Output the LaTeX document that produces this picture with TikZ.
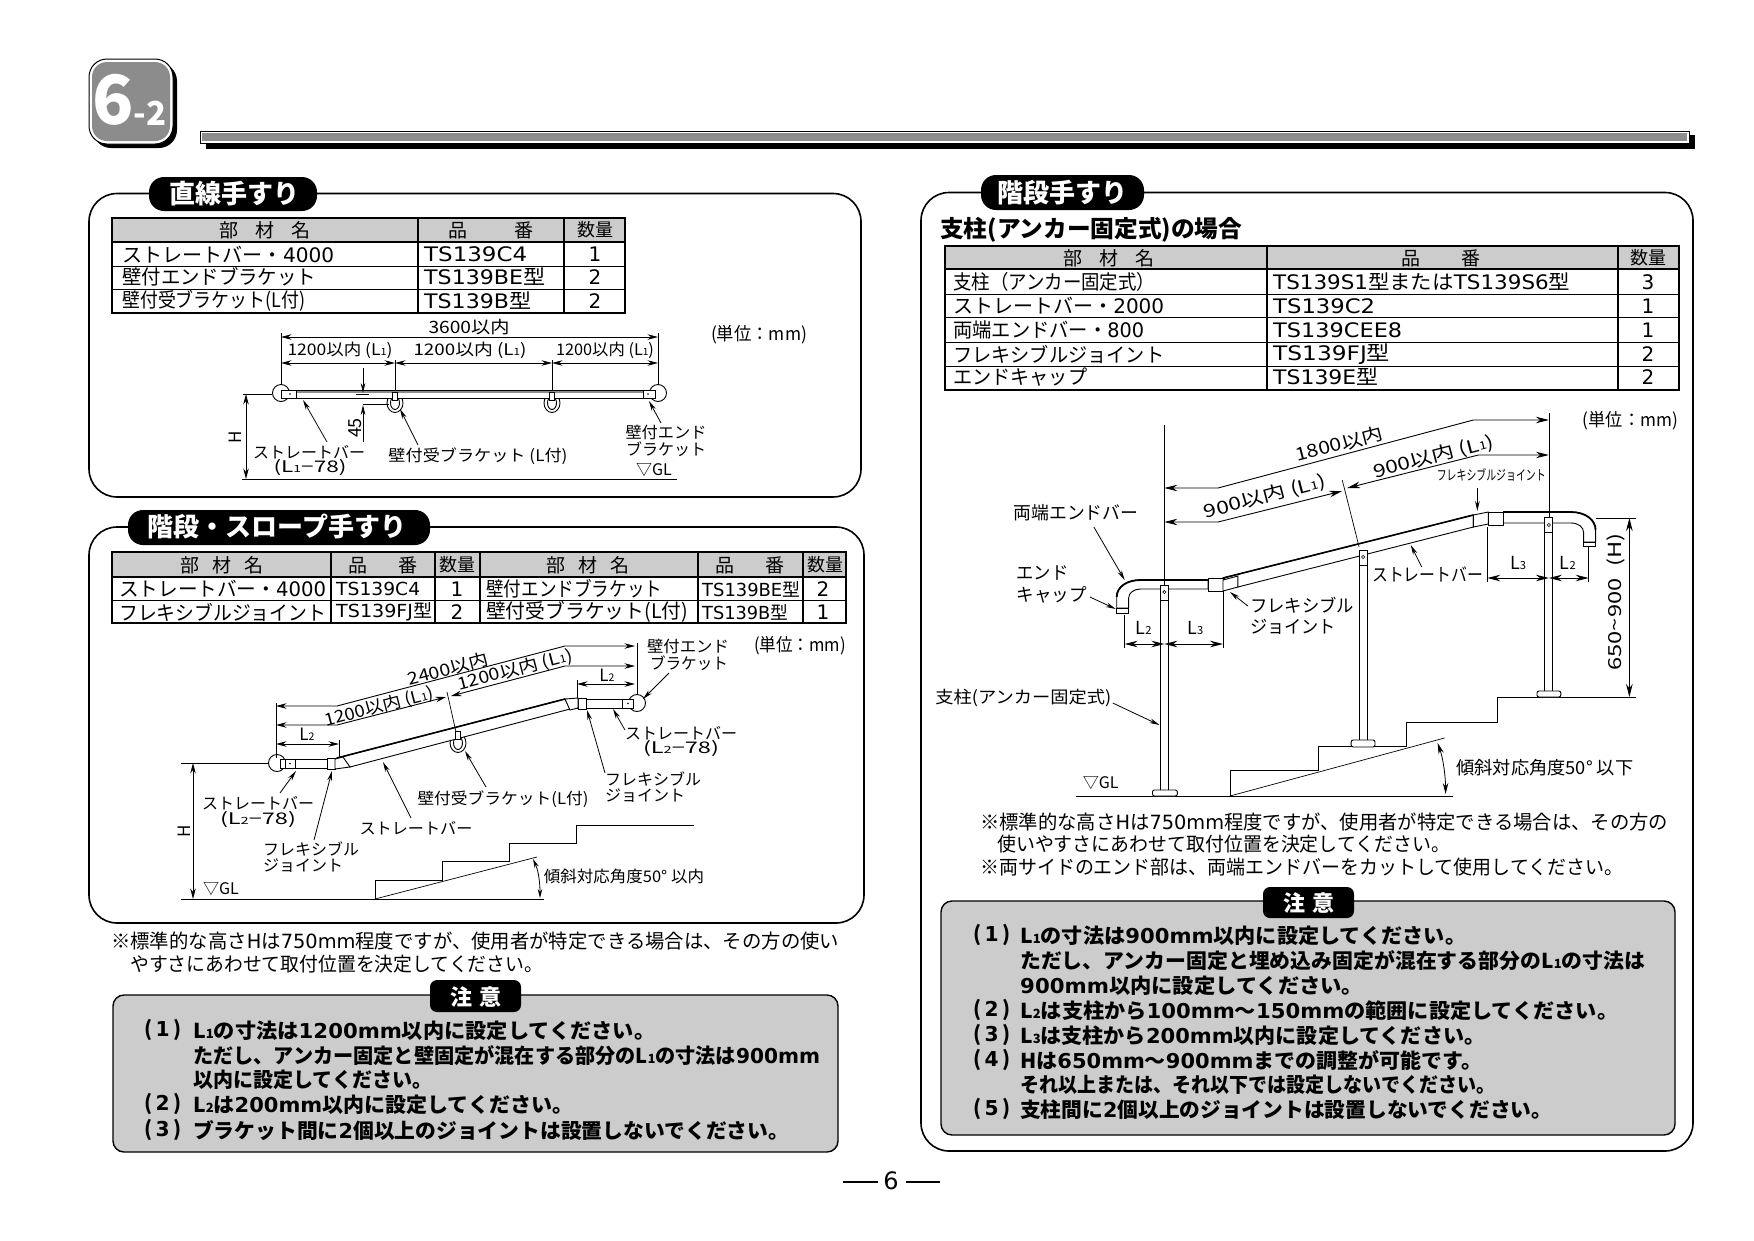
\documentclass[tikz,border=0pt]{standalone}
\usepackage{fontspec}
\usepackage{graphicx}
\setmainfont{Noto Sans CJK JP}
\newfontfamily\latf{DejaVu Sans}
\usetikzlibrary{arrows.meta}
\newcommand\fs[1]{\fontsize{#1}{#1}\selectfont}
\newcommand\Ls[1]{L\scalebox{.62}{#1}}
\newcommand\D[1]{{\latf #1}}
\newcommand\fw[2]{\resizebox{#1pt}{\height}{#2}}
\definecolor{pgray}{HTML}{CCCCCC}
\definecolor{bgray}{HTML}{8C8C8C}
\tikzset{
 x=1pt,y=-1pt,
 tx/.style={inner sep=0pt,font=\fs{#1}},
 tx/.default=16,
 lt/.style={inner sep=0pt,anchor=west,font=\fs{#1}},
 lt/.default=20,
 bt/.style={inner sep=0pt,anchor=west,yshift=-1.3pt,font=\bfseries\fs{20.5}},
 head/.style={inner sep=0pt,font=\fs{19}},
 title/.style={inner sep=0pt,text=white,font=\bfseries\fs{26}},
 frame/.style={draw=black,line width=1.6pt,rounded corners=28pt,fill=white},
 pill/.style={fill=black,rounded corners=15pt},
 attn/.style={draw=black,line width=1.4pt,fill=pgray,rounded corners=11pt},
 tab/.style={draw=black,line width=1.5pt},
 thin line/.style={line width=.8pt},
 dim/.style={line width=.9pt,{Stealth[length=10.5pt,width=5.5pt]}-{Stealth[length=10.5pt,width=5.5pt]}},
 bigdim/.style={line width=.9pt,{Stealth[length=13pt,width=6.5pt]}-{Stealth[length=13pt,width=6.5pt]}},
 arr/.style={line width=.8pt,-{Stealth[length=10pt,width=4.6pt]}},
 ext/.style={line width=.7pt},
 rail/.style={draw=black,line width=.9pt,fill=white},
}
\begin{document}
\begin{tikzpicture}
\useasboundingbox (0,0) rectangle (1754,1240);
\fill[white] (0,0) rectangle (1754,1240);
% badge
\fill[black,rounded corners=18pt] (93,63) rectangle (177,148);
\draw[black,line width=1pt,fill=white,rounded corners=18pt] (89,59) rectangle (173,144);
\fill[bgray,rounded corners=15pt] (92,62) rectangle (170,141);
\node[inner sep=0pt,text=white,font=\bfseries\fs{68}] (bsix) at (113,100) {6};
\node[inner sep=0pt,text=white,font=\bfseries\fs{33}] (btwo) at (150,113) {-2};
% header rule
\fill[black] (206,135) rectangle (1695,149);
\draw[black,line width=.8pt,fill=white] (200,131) rectangle (1689,143);
\fill[bgray] (202,133) rectangle (1687,141);

%% BOX 1
\draw[frame] (89,193.5) rectangle (861,497);
\fill[pill] (149,177) rectangle (317,211);
\node[title] (t1) at (234,194) {直線手すり};
\fill[pgray] (112,218) rectangle (625,242);
\draw[tab] (112,218) rectangle (625,313);
\draw[tab] (112,242) -- (625,242);
\draw[thin line] (112,266) -- (625,266) (112,289) -- (625,289);
\draw[tab] (418,218) -- (418,313) (564,218) -- (564,313);
\node[head] (a1) at (265,230) {部\hspace{.9em}材\hspace{.9em}名};
\node[head] (a2) at (491,230) {品\hspace{2.5em}番};
\node[head,font=\fs{18}] (a3) at (595,230) {数量};
\node[lt] (a4) at (122,255) {\fw{212}{ストレートバー・\D{4000}}};
\node[lt] (a5) at (122,277) {\fw{194}{壁付エンドブラケット}};
\node[lt] (a6) at (122,301) {\fw{183}{壁付受ブラケット(L付)}};
\node[lt] (a7) at (424,254) {\fw{103}{\D{TS139C4}}};
\node[lt] (a8) at (424,277) {\fw{121}{\D{TS139BE}型}};
\node[lt] (a9) at (424,301) {\fw{107}{\D{TS139B}型}};
\node[tx=20] (a10) at (595,254) {\D{1}};
\node[tx=20] (a11) at (595,277) {\D{2}};
\node[tx=20] (a12) at (595,301) {\D{2}};
% diagram 1
\draw[ext] (281,333) -- (281,387) (658,333) -- (658,387) (395,360) -- (395,392) (552,360) -- (552,392);
\draw[dim] (281,337) -- (658,337);
\draw[dim] (281,363) -- (395,363);
\draw[dim] (395,363) -- (552,363);
\draw[dim] (552,363) -- (658,363);
\node[tx=17] (d1a) at (469,327) {\fw{81}{3600以内}};
\node[tx=16] (d1b) at (340,350) {\fw{105}{1200以内 (\Ls{1})}};
\node[tx=16] (d1c) at (470,350) {\fw{113}{1200以内 (\Ls{1})}};
\node[tx=16] (d1d) at (605,350) {\fw{98}{1200以内 (\Ls{1})}};
\node[tx=18] (d1e) at (759,335) {\fw{96}{(単位：mm)}};
\draw[rail] (281,393) circle (8.5);
\draw[rail] (658,393) circle (8.5);
\draw[rail] (395,403) ellipse (8 and 9.5);
\draw[rail] (395,403) ellipse (4.5 and 6.5);
\draw[rail] (552,403) ellipse (8 and 9.5);
\draw[rail] (552,403) ellipse (4.5 and 6.5);
\draw[rail] (285,390) rectangle (654,398);
\draw[bgray,line width=2pt] (296,391.5) -- (643,391.5);
\draw[rail] (281,390) rectangle (296,398);
\draw[rail] (643,390) rectangle (655,398);
\fill (290,394) circle (.8) (648,394) circle (.8);
\draw[rail] (392.5,392) rectangle (397.5,400);
\draw[rail] (549.5,392) rectangle (554.5,400);
\draw[ext] (243,394) -- (272,394);
\draw[ext] (242,479) -- (677,479);
\draw[dim] (246,394) -- (246,479);
\node[tx=17,rotate=90] (d1h) at (235,437) {H};
\draw[arr] (363,368) -- (363,393);
\draw[ext] (356,394) -- (369,394);
\draw[arr] (363,442) -- (363,405);
\draw[ext] (363,404) -- (389,404);
\node[tx=18,rotate=90] (d1f) at (355,428) {45};
\node[tx=16] (l1a) at (309,452) {\fw{112}{ストレートバー}};
\node[tx=16] (l1b) at (310,468) {\fw{73}{(\Ls{1}−78)}};
\draw[arr] (327,442) -- (303,400);
\node[tx=16] (l1c) at (478,456) {\fw{179}{壁付受ブラケット (L付)}};
\draw[arr] (418,445) -- (400,409);
\node[tx=16] (l1d) at (666,432) {\fw{81}{壁付エンド}};
\node[tx=16] (l1e) at (666,449) {\fw{80}{ブラケット}};
\draw[arr] (661,423) -- (649,401);
\node[tx=16] (l1f) at (654,470) {▽GL};

%% BOX 2
\draw[frame] (89,527) rectangle (864,923);
\fill[pill] (128,510) rectangle (430,545);
\node[title] (t2) at (277,527) {階段・スロープ手すり};
\fill[pgray] (112,552) rectangle (846,577);
\draw[tab] (112,552) rectangle (846,623);
\draw[tab] (112,577) -- (846,577);
\draw[thin line] (112,600) -- (846,600);
\draw[tab] (331,552) -- (331,623) (435,552) -- (435,623) (480,552) -- (480,623) (698,552) -- (698,623) (803,552) -- (803,623);
\node[head] (b1) at (222,565) {部\hspace{.7em}材\hspace{.7em}名};
\node[head] (b2) at (383,565) {品\hspace{1.6em}番};
\node[head,font=\fs{18}] (b3) at (457,565) {数量};
\node[head] (b4) at (588,565) {部\hspace{.7em}材\hspace{.7em}名};
\node[head] (b5) at (750,565) {品\hspace{1.6em}番};
\node[head,font=\fs{18}] (b6) at (825,565) {数量};
\node[lt=20] (b7) at (119,589) {\fw{207}{ストレートバー・\D{4000}}};
\node[lt=20] (b8) at (119,612) {\fw{207}{フレキシブルジョイント}};
\node[lt=18] (b9) at (336,589) {\fw{84}{\D{TS139C4}}};
\node[lt=18] (b10) at (336,612) {\fw{96}{\D{TS139FJ}型}};
\node[tx=20] (b11) at (457,589) {\D{1}};
\node[tx=20] (b12) at (457,612) {\D{2}};
\node[lt=20] (b13) at (486,589) {\fw{176}{壁付エンドブラケット}};
\node[lt=20] (b14) at (486,612) {\fw{202}{壁付受ブラケット(L付)}};
\node[lt=18] (b15) at (702,589) {\fw{98}{\D{TS139BE}型}};
\node[lt=18] (b16) at (702,612) {\fw{86}{\D{TS139B}型}};
\node[tx=20] (b17) at (823,589) {\D{2}};
\node[tx=20] (b18) at (823,612) {\D{1}};
% diagram 2
\draw[ext] (181,763) -- (272,763);
\draw[ext] (181,899) -- (544,899);
\draw[dim] (193,763) -- (193,899);
\node[tx=17,rotate=90] (d2h) at (184,831) {H};
\node[tx=16] (d2g) at (221,889) {▽GL};
\draw[ext] (375,899) -- (375,880) -- (442,880) -- (442,861) -- (509,861) -- (509,843) -- (576,843) -- (576,825) -- (694,825);
\draw[ext] (375,899) -- (537,857);
\draw[line width=.8pt,{Stealth[length=9pt,width=4.5pt]}-{Stealth[length=9pt,width=4.5pt]}] (533,859) .. controls (539,872) and (540,885) .. (540,898);
\node[tx=16] (d2a) at (624,876) {\fw{160}{傾斜対応角度50° 以内}};
\draw[rail] (277,763) circle (8.5);
\draw[rail] (637,703) circle (8.5);
\draw[rail] (458,743) ellipse (8 and 9.5);
\draw[rail] (458,743) ellipse (4.5 and 6.5);
\draw[rail] (280,759) rectangle (335,768);
\draw[rail] (565,699) rectangle (633,708);
\draw[rail] (337,758) -- (565,699) -- (570,709) -- (350,767) -- cycle;
\draw[black,line width=1.6pt] (337,758) -- (565,699);
\draw[rail] (327,758) rectangle (335,769);
\draw[rail] (335,759) -- (343,757) -- (350,767) -- (335,769) -- cycle;
\draw[rail] (578,698) rectangle (586,709);
\draw[rail] (565,699) -- (578,698) -- (578,708) -- (570,710) -- cycle;
\draw[rail] (622,699) rectangle (633,708);
\draw[rail] (285,759) rectangle (295,768);
\fill (290,763.5) circle (.8) (628,703.5) circle (.8);
\draw[rail] (455.5,731) rectangle (460.5,739);
\draw[ext] (276,703) -- (276,758) (339,740) -- (339,758);
\draw[ext] (577,680) -- (577,698) (637,643) -- (637,695);
\draw[ext] (447,692) -- (456,732);
\draw[dim] (276,744) -- (339,744);
\draw[dim] (577,684) -- (635,684);
\node[tx=17] (d2b) at (307,734) {\Ls{2}};
\node[tx=17] (d2c) at (607,675) {\Ls{2}};
\draw[dim] (276,706) -- (337,706) -- (565,646) -- (635,646);
\draw[dim] (276,725) -- (337,725) -- (446,697);
\draw[dim] (451,696) -- (565,666) -- (635,666);
\node[tx=17,rotate=14.5] (d2d) at (379,707) {\fw{112}{1200以内 (\Ls{1})}};
\node[tx=17,rotate=14.5] (d2e) at (515,670) {\fw{118}{1200以内 (\Ls{1})}};
\node[tx=17,rotate=14.5] (d2f) at (448,669) {\fw{83}{2400以内}};
\node[tx=16] (l2a) at (688,646) {\fw{82}{壁付エンド}};
\node[tx=16] (l2b) at (689,663) {\fw{78}{ブラケット}};
\draw[arr] (669,673) -- (643,699);
\node[tx=18] (l2c) at (800,646) {\fw{92}{(単位：mm)}};
\node[tx=16] (l2d) at (681,733) {\fw{112}{ストレートバー}};
\node[tx=16] (l2e) at (681,749) {\fw{76}{(\Ls{2}−78)}};
\draw[arr] (625,730) -- (613,709);
\node[lt=16] (l2f) at (605,779) {\fw{96}{フレキシブル}};
\node[lt=16] (l2g) at (605,796) {\fw{80}{ジョイント}};
\draw[arr] (605,773) -- (587,710);
\node[tx=16] (l2h) at (503,799) {\fw{171}{壁付受ブラケット(L付)}};
\draw[arr] (486,787) -- (465,751);
\node[tx=16] (l2i) at (416,828) {\fw{113}{ストレートバー}};
\draw[arr] (411,818) -- (383,762);
\node[tx=16] (l2j) at (258,803) {\fw{112}{ストレートバー}};
\node[tx=16] (l2k) at (258,820) {\fw{76}{(\Ls{2}−78)}};
\draw[arr] (280,793) -- (296,771);
\node[lt=16] (l2l) at (263,849) {\fw{96}{フレキシブル}};
\node[lt=16] (l2m) at (263,866) {\fw{80}{ジョイント}};
\draw[arr] (314,840) -- (332,771);
% note left
\node[lt=19.6,yshift=-1pt] (n1) at (111,940) {\fw{728}{※標準的な高さ\D{H}は\D{750mm}程度ですが、使用者が特定できる場合は、その方の使い}};
\node[lt=19.6,yshift=-1pt] (n2) at (130,963) {\fw{413}{やすさにあわせて取付位置を決定してください。}};
% caution left
\draw[attn] (113,995) rectangle (838,1152);
\fill[black,rounded corners=7pt] (430,980) rectangle (521,1012);
\node[title,font=\bfseries\fs{22}] (c0) at (476,997) {注\hspace{.35em}意};
\node[bt] (c1) at (144,1029) {\fw{37}{(\,\D{1}\,)}};
\node[bt] (c1a) at (193,1029) {\fw{462}{\Ls{1}の寸法は\D{1200mm}以内に設定してください。}};
\node[bt] (c1b) at (193,1054) {\fw{627}{ただし、アンカー固定と壁固定が混在する部分の\Ls{1}の寸法は\D{900mm}}};
\node[bt] (c1c) at (193,1078) {\fw{239}{以内に設定してください。}};
\node[bt] (c2) at (144,1103) {\fw{37}{(\,\D{2}\,)}};
\node[bt] (c2a) at (193,1103) {\fw{380}{\Ls{2}は\D{200mm}以内に設定してください。}};
\node[bt] (c3) at (144,1129) {\fw{37}{(\,\D{3}\,)}};
\node[bt] (c3a) at (193,1129) {\fw{596}{ブラケット間に\D{2}個以上のジョイントは設置しないでください。}};
% page number
\draw[line width=1.4pt] (843,1182) -- (878,1182) (906,1182) -- (940,1182);
\node[tx=24] (pg) at (891,1181) {\D{6}};

%% BOX 3
\draw[frame] (921,192.5) rectangle (1693,1151);
\fill[pill] (981,175) rectangle (1144,210);
\node[title] (t3) at (1062,193) {階段手すり};
\node[lt=23,font=\bfseries\fs{23.5}] (s3) at (940,230) {\fw{302}{支柱(アンカー固定式)の場合}};
\fill[pgray] (945,246) rectangle (1679,269);
\draw[tab] (945,246) rectangle (1679,390);
\draw[tab] (945,269) -- (1679,269);
\draw[thin line] (945,294) -- (1679,294) (945,317) -- (1679,317) (945,342) -- (1679,342) (945,366) -- (1679,366);
\draw[tab] (1267,246) -- (1267,390) (1618,246) -- (1618,390);
\node[head] (e1) at (1109,258) {部\hspace{.9em}材\hspace{.9em}名};
\node[head] (e2) at (1441,258) {品\hspace{2.2em}番};
\node[head,font=\fs{18}] (e3) at (1648,258) {数量};
\node[lt] (e4) at (953,282) {\fw{202}{支柱（アンカー固定式）}};
\node[lt] (e5) at (953,306) {\fw{211}{ストレートバー・\D{2000}}};
\node[lt] (e6) at (953,330) {\fw{191}{両端エンドバー・\D{800}}};
\node[lt] (e7) at (953,354) {\fw{211}{フレキシブルジョイント}};
\node[lt] (e8) at (953,377) {\fw{134}{エンドキャップ}};
\node[lt] (e9) at (1273,282) {\fw{297}{\D{TS139S1}型または\D{TS139S6}型}};
\node[lt] (e10) at (1273,306) {\fw{102}{\D{TS139C2}}};
\node[lt] (e11) at (1273,330) {\fw{129}{\D{TS139CEE8}}};
\node[lt] (e12) at (1273,354) {\fw{117}{\D{TS139FJ}型}};
\node[lt] (e13) at (1273,377) {\fw{105}{\D{TS139E}型}};
\node[tx=20] (e14) at (1648,282) {\D{3}};
\node[tx=20] (e15) at (1648,306) {\D{1}};
\node[tx=20] (e16) at (1648,330) {\D{1}};
\node[tx=20] (e17) at (1648,354) {\D{2}};
\node[tx=20] (e18) at (1648,377) {\D{2}};
\begin{scope}[shift={(920,0)},xscale=.9935,shift={(-920,0)}]
% diagram 3 ground and stairs
\draw[ext] (1077,796) -- (1456,796);
\draw[ext] (1232,796) -- (1232,770) -- (1321,770) -- (1321,746) -- (1410,746) -- (1410,722) -- (1501,722) -- (1501,697) -- (1641,697);
\draw[ext] (1232,796) -- (1448,738);
\draw[line width=.8pt,{Stealth[length=11pt,width=5.5pt]}-{Stealth[length=11pt,width=5.5pt]}] (1441,743) .. controls (1447,760) and (1449,778) .. (1449,794);
\node[tx=18] (d3a) at (1549,768) {\fw{177}{傾斜対応角度50° 以下}};
\node[tx=16] (d3b) at (1102,783) {▽GL};
% posts
\draw[rail] (1162,585) rectangle (1170,790);
\draw[rail] (1362,550) rectangle (1370,740);
\draw[rail] (1549,517) rectangle (1557,692);
\draw[rail,rounded corners=2pt] (1154,796) -- (1154,790) -- (1179,790) -- (1179,796) -- cycle;
\draw[rail,rounded corners=2pt] (1354,747) -- (1354,740) -- (1378,740) -- (1378,747) -- cycle;
\draw[rail,rounded corners=2pt] (1541,697) -- (1541,691) -- (1565,691) -- (1565,697) -- cycle;
% rail left
\draw[rail] (1118,608) -- (1118,597) .. controls (1118,587) and (1128,580) .. (1142,580) -- (1210,580) -- (1210,589) -- (1142,589) .. controls (1135,589) and (1130,593) .. (1130,598) -- (1130,608) -- cycle;
\draw[black,line width=1.8pt] (1118,597) .. controls (1118,587) and (1128,580) .. (1142,580) -- (1210,580);
\draw[rail] (1118,608) rectangle (1130,613);
% sloped
\draw[rail] (1225,578) -- (1477,515) -- (1477,527) -- (1240,587) -- cycle;
\draw[black,line width=1.6pt] (1225,578) -- (1477,515);
\draw[rail] (1210,578) rectangle (1225,591);
\draw[rail] (1225,580) -- (1240,576) -- (1240,587) -- (1225,591) -- cycle;
% rail right
\draw[rail] (1507,512) -- (1575,512) .. controls (1590,512) and (1600,520) .. (1600,530) -- (1600,542) -- (1588,542) -- (1588,533) .. controls (1588,527) and (1583,523) .. (1575,523) -- (1507,523) -- cycle;
\draw[black,line width=1.8pt] (1507,512) -- (1575,512) .. controls (1590,512) and (1600,520) .. (1600,530);
\draw[rail] (1588,542) rectangle (1600,546);
\draw[rail] (1477,515) -- (1492,512) -- (1492,524) -- (1477,527) -- cycle;
\draw[rail] (1492,512) rectangle (1507,525);
% post heads
\draw[rail] (1162,585) rectangle (1170,600);
\draw[rail] (1362,550) rectangle (1370,565);
\draw[rail] (1549,517) rectangle (1557,532);
\draw[line width=.6pt] (1166,592) circle (1.6) (1366,557) circle (1.6) (1553,525) circle (1.6);
% dims
\draw[ext] (1166,425) -- (1166,585) (1553,413) -- (1553,517);
\draw[ext] (1126,615) -- (1126,648) (1225,592) -- (1225,648);
\draw[ext] (1491,527) -- (1491,582) (1593,547) -- (1593,582);
\draw[ext] (1345,480) -- (1362,547);
\draw[bigdim] (1166,488) -- (1220,488) -- (1477,420) -- (1553,420);
\draw[bigdim] (1166,522) -- (1220,522) -- (1345,491);
\draw[bigdim] (1350,488) -- (1482,455) -- (1553,455);
\node[tx=18,rotate=14.5] (d3c) at (1342,444) {\fw{90}{1800以内}};
\node[tx=18,rotate=14.5] (d3d) at (1267,497) {\fw{125}{900以内 (\Ls{1})}};
\node[tx=18,rotate=14.5] (d3e) at (1437,457) {\fw{124}{900以内 (\Ls{1})}};
\draw[bigdim] (1126,644) -- (1166,644);
\draw[bigdim] (1166,644) -- (1225,644);
\draw[bigdim] (1491,578) -- (1553,578);
\draw[bigdim] (1553,578) -- (1593,578);
\node[tx=18] (d3f) at (1145,628) {\Ls{2}};
\node[tx=18] (d3g) at (1197,628) {\Ls{3}};
\node[tx=18] (d3h) at (1522,563) {\Ls{3}};
\node[tx=18] (d3i) at (1572,563) {\Ls{2}};
\draw[ext] (1600,518) -- (1641,518);
\draw[bigdim] (1634,518) -- (1634,697);
\node[tx=18,rotate=90] (d3j) at (1620,602) {\fw{137}{650\symbol{126}900\hspace{.5em}(H)}};
% labels
\node[tx=14] (l3a) at (1495,475) {\fw{109}{フレキシブルジョイント}};
\draw[arr] (1481,488) -- (1481,511);
\node[tx=18] (l3b) at (1635,421) {\fw{95}{(単位：mm)}};
\node[tx=18] (l3c) at (1077,513) {\fw{125}{両端エンドバー}};
\draw[arr] (1095,527) -- (1126,580);
\node[lt=18] (l3d) at (1017,573) {\fw{52}{エンド}};
\node[lt=18] (l3e) at (1017,595) {\fw{70}{キャップ}};
\draw[arr] (1091,597) -- (1117,609);
\node[tx=18] (l3f) at (1431,574) {\fw{111}{ストレートバー}};
\draw[arr] (1425,567) -- (1414,545);
\node[lt=18] (l3g) at (1252,605) {\fw{104}{フレキシブル}};
\node[lt=18] (l3h) at (1252,627) {\fw{86}{ジョイント}};
\draw[arr] (1250,606) -- (1232,592);
\node[tx=17] (l3i) at (1024,698) {\fw{176}{支柱(アンカー固定式)}};
\draw[arr] (1114,703) -- (1161,725);
\end{scope}
% notes right
\node[lt=19.6] (n3) at (980,822) {\fw{688}{※標準的な高さ\D{H}は\D{750mm}程度ですが、使用者が特定できる場合は、その方の}};
\node[lt=19.6] (n4) at (997,844) {\fw{453}{使いやすさにあわせて取付位置を決定してください。}};
\node[lt=19.6] (n5) at (980,867) {\fw{643}{※両サイドのエンド部は、両端エンドバーをカットして使用してください。}};
% caution right
\draw[attn] (941,901) rectangle (1675,1135);
\fill[black,rounded corners=7pt] (1263,887) rectangle (1354,918);
\node[title,font=\bfseries\fs{22}] (f0) at (1309,903) {注\hspace{.35em}意};
\node[bt] (f1) at (973,934) {\fw{37}{(\,\D{1}\,)}};
\node[bt] (f1a) at (1020,934) {\fw{446}{\Ls{1}の寸法は\D{900mm}以内に設定してください。}};
\node[bt] (f1b) at (1020,959) {\fw{625}{ただし、アンカー固定と埋め込み固定が混在する部分の\Ls{1}の寸法は}};
\node[bt] (f1c) at (1020,984) {\fw{343}{\D{900mm}以内に設定してください。}};
\node[bt] (f2) at (973,1009) {\fw{37}{(\,\D{2}\,)}};
\node[bt] (f2a) at (1020,1009) {\fw{598}{\Ls{2}は支柱から\D{100mm}〜\D{150mm}の範囲に設定してください。}};
\node[bt] (f3) at (973,1034) {\fw{37}{(\,\D{3}\,)}};
\node[bt] (f3a) at (1020,1034) {\fw{465}{\Ls{3}は支柱から\D{200mm}以内に設定してください。}};
\node[bt] (f4) at (973,1059) {\fw{37}{(\,\D{4}\,)}};
\node[bt] (f4a) at (1020,1059) {\fw{462}{Hは\D{650mm}〜\D{900mm}までの調整が可能です。}};
\node[bt] (f4b) at (1020,1083) {\fw{475}{それ以上または、それ以下では設定しないでください。}};
\node[bt] (f5) at (973,1108) {\fw{37}{(\,\D{5}\,)}};
\node[bt] (f5a) at (1020,1108) {\fw{532}{支柱間に\D{2}個以上のジョイントは設置しないでください。}};
\end{tikzpicture}
\end{document}
